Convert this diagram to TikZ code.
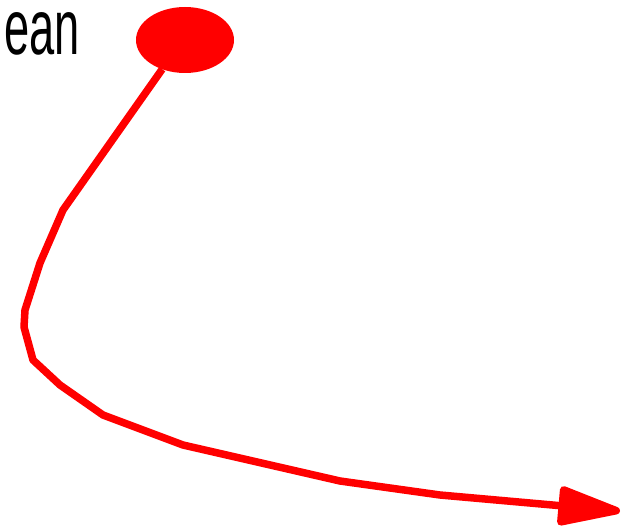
\documentclass[tikz,border=0pt]{standalone}
\usepackage{fontspec}
\usepackage{graphicx}
\setmainfont{Liberation Sans}
\usetikzlibrary{arrows.meta,shapes.geometric}
\definecolor{pred}{RGB}{255,0,0}
\tikzset{
  dotnode/.style={ellipse, fill=pred, draw=none, minimum width=98pt, minimum height=66pt, inner sep=0pt, outer sep=0pt},
  redpath/.style={draw=pred, line width=7.5pt, line join=round, -{Triangle[length=72pt,width=40pt,round]}},
  lbl/.style={anchor=base east, inner sep=0pt, font=\fontsize{78}{80}\selectfont}
}
\begin{document}
\begin{tikzpicture}[x=1pt,y=-1pt]
\useasboundingbox (0,0) rectangle (634,529);
\node[lbl] (label) at (80,55) {\scalebox{0.58}[1]{ean}};
\node[dotnode] (dot) at (185,40) {};
\coordinate (tip) at (620,511);
\draw[redpath] (dot.232) -- (63,210) -- (40,263) -- (25,310) -- (24,327) -- (33,360) -- (60,385) -- (103,415) -- (183,445) -- (340,481) -- (440,495) -- (tip);
\end{tikzpicture}
\end{document}
